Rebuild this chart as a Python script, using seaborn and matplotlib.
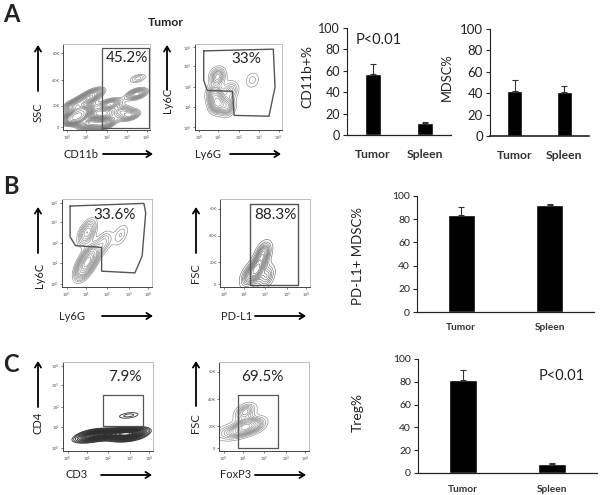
import matplotlib
matplotlib.use("Agg")
import matplotlib.pyplot as plt
import pandas as pd
import seaborn as sns

sns.set_theme(style="white")
plt.rcParams["font.family"] = ["Lato", "DejaVu Sans"]

W, H = 600, 495

groups = ["Tumor", "Spleen"]
cd11b = [57, 11]
cd11b_top = [66, 12]
mdsc = [42, 41.5]
mdsc_top = [52, 47]
pdl1 = [83.5, 92]
pdl1_top = [90.5, 93]
treg = [81.5, 7.5]
treg_top = [90.5, 8.5]

# flow populations: x, y (fraction of plot) and relative weight
a1_x = [.14, .12, .30, .46, .27, .54, .77, .85, .86, .38, .22, .66]
a1_y = [.14, .28, .08, .07, .36, .30, .17, .42, .60, .44, .22, .22]
a1_w = [7, 3, 4, 4, 3, 3, 2.5, 3, 1.5, 2, 4, 2]
a2_x = [.26, .26, .22, .41, .66, .37]
a2_y = [.62, .31, .42, .46, .58, .27]
a2_w = [3, 5, 3, 2, 1, 3]
b1_x = [.28, .31, .24, .65, .46]
b1_y = [.62, .33, .22, .59, .50]
b1_w = [3, 5, 4, 1, 1.5]
b2_x = [.41, .48, .31, .52]
b2_y = [.20, .38, .12, .12]
b2_w = [4, 3, 2, 2]
c1_x = [.28, .37, .56, .76, .72, .73]
c1_y = [.14, .19, .19, .21, .16, .40]
c1_w = [2, 4, 4, 4, 3, 1]
c2_x = [.29, .05, .16, .29, .42]
c2_y = [.27, .21, .21, .44, .29]
c2_w = [5, 1, 1.5, 2.5, 2]

gate_a2 = [(.10, .92), (.90, .94), (.92, .50), (.85, .16), (.45, .17), (.43, .45), (.14, .46), (.10, .58), (.10, .92)]
gate_b1 = [(.09, .92), (.91, .95), (.93, .84), (.89, .35), (.81, .16), (.44, .18), (.44, .45), (.15, .47), (.09, .57), (.09, .92)]
log_ticks = ["10$^0$", "10$^1$", "10$^2$", "10$^3$", "10$^4$"]
scatter_ticks = ["0", "20K", "40K", "60K"]

fig = plt.figure(figsize=(W / 100, H / 100), dpi=100)


def px_axes(left, top, right, bottom):
    return fig.add_axes([left / W, 1 - bottom / H, (right - left) / W, (bottom - top) / H])


def label(x, y, s, size=8.5, **kw):
    fig.text(x / W, 1 - y / H, s, fontsize=size, ha="center", va="center", color="#222222", **kw)


def arrow(x0, y0, x1, y1):
    fig.add_artist(matplotlib.patches.FancyArrowPatch(
        (x0 / W, 1 - y0 / H), (x1 / W, 1 - y1 / H), transform=fig.transFigure,
        arrowstyle="->,head_length=3.5,head_width=2.2", color="black", lw=1.3, shrinkA=0, shrinkB=0))


def flow(box, xs, ys, ws, xt, yt, pct, pct_xy, gate=None, color="#8a8a8a", bw=.6, levels=13, thresh=.08, lw=.45):
    ax = px_axes(*box)
    df = pd.DataFrame({"x": xs, "y": ys, "w": ws})
    sns.kdeplot(data=df, x="x", y="y", weights="w", levels=levels, thresh=thresh, bw_adjust=bw,
                color=color, linewidths=lw, ax=ax)
    ax.set_xlim(0, 1)
    ax.set_ylim(0, 1)
    ax.set_xlabel("")
    ax.set_ylabel("")
    xpos = [.05, .27, .5, .74, .96]
    ax.set_xticks(xpos, xt)
    ypos = [.03, .28, .58, .89] if len(yt) == 4 else [.03, .27, .5, .74, .96]
    ax.set_yticks(ypos, yt)
    ax.tick_params(length=1.5, width=.5, labelsize=2.8, pad=1, colors="#444444", bottom=True, left=True)
    for name, sp in ax.spines.items():
        sp.set_color("#444444" if name in ("left", "bottom") else "#bdbdbd")
        sp.set_linewidth(.7)
    if gate is not None:
        ax.plot(*zip(*gate), color="#555555", lw=1)
    label(pct_xy[0], pct_xy[1], pct, 11)
    return ax


def bars(box, vals, tops, ylab, ylab_xy, width=.31, xsize=8, ysize=8.5, pad=8, lw=.9, labsize=10):
    ax = px_axes(*box)
    df = pd.DataFrame({"group": groups, "value": vals})
    sns.barplot(data=df, x="group", y="value", color="black", saturation=1, width=width, ax=ax)
    ax.errorbar([0, 1], vals, yerr=[[0, 0], [t - v for t, v in zip(tops, vals)]],
                fmt="none", ecolor="#333333", elinewidth=.8, capsize=2.5, capthick=.8)
    ax.set_xlim(-.5, 1.5)
    ax.set_ylim(0, 100)
    ax.set_yticks([0, 20, 40, 60, 80, 100])
    ax.set_xlabel("")
    ax.set_ylabel("")
    ax.patch.set_alpha(0)
    sns.despine(ax=ax)
    ax.spines["left"].set_linewidth(.8)
    ax.spines["bottom"].set_linewidth(lw)
    ax.spines["left"].set_color("#222222")
    ax.spines["bottom"].set_color("#222222")
    ax.tick_params(axis="y", left=True, length=3, width=.8, labelsize=ysize, pad=2, labelcolor="#222222")
    ax.tick_params(axis="x", bottom=False, labelsize=xsize, pad=pad, labelcolor="#333333")
    for t in ax.get_xticklabels():
        t.set_fontweight("bold")
    label(ylab_xy[0], ylab_xy[1], ylab, labsize, rotation=90)
    return ax


# panel A
flow((63, 44, 150, 130), a1_x, a1_y, a1_w, log_ticks, scatter_ticks, "45.2%", (127, 58), color="#808080", levels=20, bw=.5, thresh=.12)
ax = fig.axes[-1]
ax.plot([.445, .445, .985, .985, .445], [.0, .955, .955, .02, .02], color="#555555", lw=.9)
flow((195, 44, 282, 130), a2_x, a2_y, a2_w, log_ticks, log_ticks, "33%", (246, 59), gate_a2)
bars((347, 28, 451, 135), cd11b, cd11b_top, "CD11b+%", (307, 77), xsize=8.7, ysize=9, pad=4)
bars((490, 29, 589, 136), mdsc, mdsc_top, "MDSC%", (447, 77), xsize=8.7, ysize=9.5, pad=4, lw=1.2, labsize=9.3)
label(379, 40, "P<0.01", 10.5)

# panel B
flow((62, 199, 152, 287), b1_x, b1_y, b1_w, log_ticks, log_ticks, "33.6%", (115, 215), gate_b1)
flow((220, 199, 310, 287), b2_x, b2_y, b2_w, log_ticks, scatter_ticks, "88.3%", (275, 215), color="#707070", bw=.85)
ax = fig.axes[-1]
ax.plot([.33, .87, .87, .33, .33], [.94, .94, .02, .02, .94], color="#555555", lw=1)
bars((417, 196, 594, 312), pdl1, pdl1_top, "PD-L1+ MDSC%", (358, 256), width=.3, xsize=7.3, ysize=7.5, pad=2, labsize=9.5)

# panel C
flow((63, 362, 153, 451), c1_x, c1_y, c1_w, log_ticks, log_ticks, "7.9%", (125, 377), color="#303030", levels=26, bw=.75, thresh=.1, lw=.6)
ax = fig.axes[-1]
ax.plot([.44, .89, .89, .44, .44], [.63, .63, .28, .28, .63], color="#555555", lw=.9)
flow((219, 362, 309, 451), c2_x, c2_y, c2_w, log_ticks, scatter_ticks, "69.5%", (262, 377), bw=.8)
ax = fig.axes[-1]
ax.plot([.21, .65, .65, .21, .21], [.63, .63, .03, .03, .63], color="#555555", lw=.9)
bars((418, 359, 597, 473), treg, treg_top, "Treg%", (358, 413), width=.31, xsize=7.3, ysize=7.5, pad=2.5)
label(562, 376, "P<0.01", 10.5)

# letters, title
label(11, 14, "A", 17, fontweight="bold")
label(11, 187, "B", 17, fontweight="bold")
label(11, 364, "C", 17, fontweight="bold")
label(166, 22, "Tumor", 8.8, fontweight="bold")

# axis names of flow plots
label(38, 112, "SSC", 8, rotation=90)
label(81, 154, "CD11b", 8)
label(167, 100, "Ly6C", 8, rotation=90)
label(208, 154, "Ly6G", 8)
label(39, 275, "Ly6C", 8, rotation=90)
label(72, 317, "Ly6G", 8)
label(196, 273, "FSC", 8, rotation=90)
label(237, 317, "PD-L1", 8)
label(38, 423, "CD4", 8, rotation=90)
label(77, 475, "CD3", 8)
label(196, 423, "FSC", 8, rotation=90)
label(236, 475, "FoxP3", 8)

arrow(38, 91, 38, 45)
arrow(103, 154, 153, 154)
arrow(167, 90, 167, 45)
arrow(230, 154, 281, 154)
arrow(38, 253, 38, 207)
arrow(102, 316, 153, 316)
arrow(196, 253, 196, 207)
arrow(255, 316, 306, 316)
arrow(38, 407, 38, 361)
arrow(101, 475, 152, 475)
arrow(196, 406, 196, 361)
arrow(255, 475, 306, 475)

fig.savefig("out.png", dpi=100)
